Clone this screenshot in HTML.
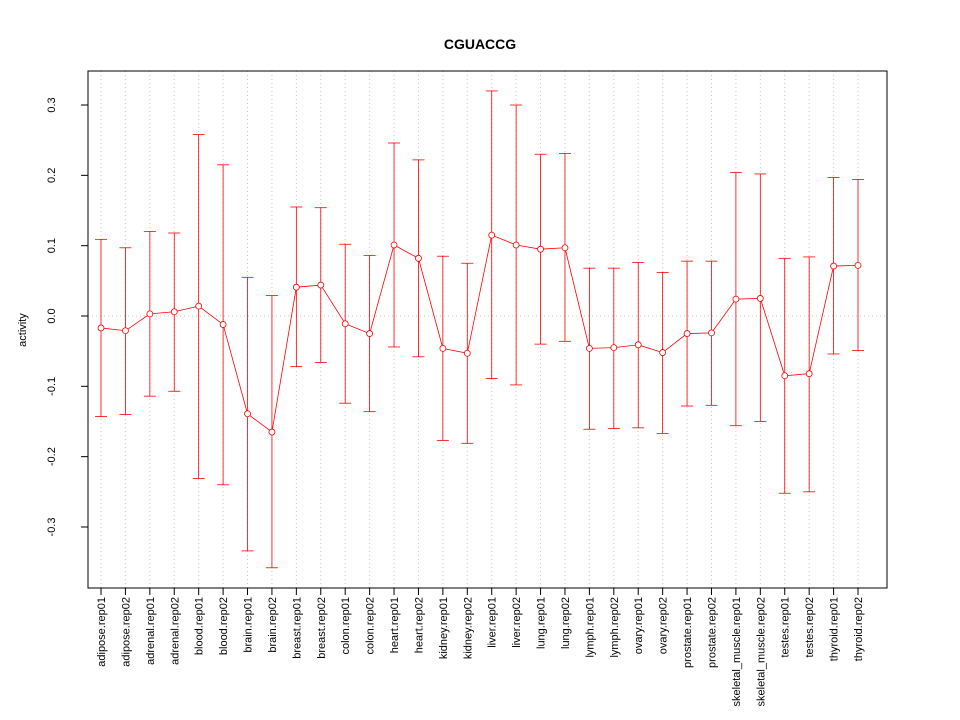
<!DOCTYPE html>
<html><head><meta charset="utf-8"><style>body{margin:0;background:#fff}svg{display:block;font-family:"Liberation Sans",sans-serif}</style></head>
<body>
<svg id="c" width="960" height="720"></svg>
<script>
const categories=["adipose.rep01","adipose.rep02","adrenal.rep01","adrenal.rep02","blood.rep01","blood.rep02","brain.rep01","brain.rep02","breast.rep01","breast.rep02","colon.rep01","colon.rep02","heart.rep01","heart.rep02","kidney.rep01","kidney.rep02","liver.rep01","liver.rep02","lung.rep01","lung.rep02","lymph.rep01","lymph.rep02","ovary.rep01","ovary.rep02","prostate.rep01","prostate.rep02","skeletal_muscle.rep01","skeletal_muscle.rep02","testes.rep01","testes.rep02","thyroid.rep01","thyroid.rep02"];
const values=[-0.017,-0.021,0.003,0.006,0.014,-0.012,-0.139,-0.165,0.041,0.044,-0.011,-0.025,0.101,0.082,-0.046,-0.053,0.115,0.101,0.095,0.097,-0.046,-0.045,-0.041,-0.052,-0.025,-0.024,0.024,0.025,-0.085,-0.082,0.071,0.072];
const upper=[0.109,0.097,0.120,0.118,0.258,0.215,0.055,0.029,0.155,0.154,0.102,0.086,0.246,0.222,0.085,0.075,0.320,0.300,0.230,0.231,0.068,0.068,0.076,0.062,0.078,0.078,0.204,0.202,0.082,0.084,0.197,0.194];
const lower=[-0.143,-0.140,-0.114,-0.107,-0.231,-0.240,-0.334,-0.358,-0.072,-0.066,-0.124,-0.136,-0.044,-0.058,-0.177,-0.181,-0.089,-0.098,-0.040,-0.036,-0.161,-0.160,-0.159,-0.167,-0.128,-0.127,-0.156,-0.150,-0.252,-0.250,-0.054,-0.049];
const yTicks=[-0.3,-0.2,-0.1,0.0,0.1,0.2,0.3];
const yLabels=["-0.3","-0.2","-0.1","0.0","0.1","0.2","0.3"];
const svg=document.getElementById('c');const NS='http://www.w3.org/2000/svg';
const L=88,R=887,T=71,B=588;
const y=v=>316-v*703.3;
const x=i=>101+i*(858-101)/(categories.length-1);
function el(t,a,txt){const e=document.createElementNS(NS,t);for(const k in a)e.setAttribute(k,a[k]);if(txt!==undefined)e.textContent=txt;svg.appendChild(e);return e;}
let e;
e=el('text',{x:480,y:49,'text-anchor':'middle','font-size':14,'font-weight':'bold'},'CGUACCG');


categories.forEach((c,i)=>{
 e=el('line',{x1:x(i),x2:x(i),y1:T,y2:B,stroke:'#c8c8c8','stroke-dasharray':'1,3'});
 
 
});
e=el('line',{x1:L,x2:R,y1:y(0),y2:y(0),stroke:'#c8c8c8','stroke-dasharray':'1,3'});


e=el('rect',{x:L,y:T,width:R-L,height:B-T,fill:'none',stroke:'#000'});


yTicks.forEach((v,i)=>{
 e=el('line',{x1:L-7,x2:L,y1:y(v),y2:y(v),stroke:'#000'});
 
 
 e=el('text',{x:0,y:0,transform:`translate(55,${y(v)}) rotate(-90)`,'text-anchor':'middle','font-size':11},yLabels[i]);
 
 
});
e=el('text',{x:0,y:0,transform:`translate(26,330) rotate(-90)`,'text-anchor':'middle','font-size':11},'activity');


categories.forEach((c,i)=>{
 e=el('line',{x1:x(i),x2:x(i),y1:B,y2:B+7,stroke:'#000'});
 
 
 e=el('text',{x:0,y:0,transform:`translate(${x(i)+4},597) rotate(-90)`,'text-anchor':'end','font-size':11},c);
 
 
 e=el('line',{x1:x(i),x2:x(i),y1:y(upper[i]),y2:y(lower[i]),stroke:'#f00','stroke-width':0.8});
 
 
 e=el('line',{x1:x(i)-6,x2:x(i)+6,y1:y(upper[i]),y2:y(upper[i]),stroke:'#f00','stroke-width':0.8});
 
 
 e=el('line',{x1:x(i)-6,x2:x(i)+6,y1:y(lower[i]),y2:y(lower[i]),stroke:'#f00','stroke-width':0.8});
 
 
});
e=el('polyline',{points:values.map((v,i)=>x(i)+','+y(v)).join(' '),fill:'none',stroke:'#f00','stroke-width':0.8});


values.forEach((v,i)=>{
 e=el('circle',{cx:x(i),cy:y(v),r:3,fill:'#fff',stroke:'#f00','stroke-width':0.8});
 
 
});
</script>
</body></html>
